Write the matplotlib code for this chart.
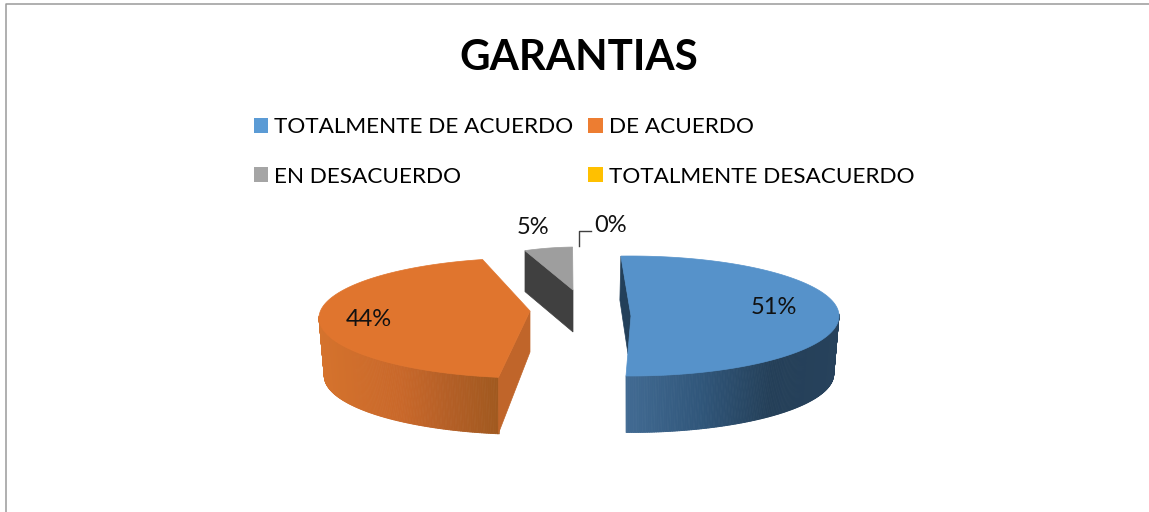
import numpy as np
import matplotlib
matplotlib.use('Agg')
import matplotlib.pyplot as plt
from matplotlib.collections import PolyCollection
from matplotlib.colors import LinearSegmentedColormap
from matplotlib.patches import Patch, Polygon

plt.rcParams['font.family'] = ['Lato', 'DejaVu Sans']

title = 'GARANTIAS'
categories = ['TOTALMENTE DE ACUERDO', 'DE ACUERDO', 'EN DESACUERDO', 'TOTALMENTE DESACUERDO']
values = [51, 44, 5, 0]
legend_colors = ['#5b9bd5', '#ed7d31', '#a5a5a5', '#ffc000']

# how each slice sits in the picture, all in pixels
top_colors = ['#5692ca', '#e0752e', '#9e9e9e', '#ffc000']
cut_colors = ['#23405a', '#c0652a', '#404040', '#ffc000']
centers = [(630, 316), (530, 318), (578, 307), (578, 307)]
apexes = [(631, 316), (530, 311), (573, 290), (578, 290)]
radii = [(209, 60), (211, 60), (155, 60), (155, 60)]
turns = [-2.5, 5, -2, 0]
label_pos = [(774, 308), (369, 319), (533, 228), (611, 226)]
DEPTH = 58

def arc_points(center, radius, a0, a1, shrink=1.):
	a = np.radians(np.linspace(a0, a1, max(int(abs(a1 - a0)) * 2, 2)))
	x = center[0] + radius[0] * shrink * np.sin(a)
	y = center[1] - radius[1] * shrink * np.cos(a)
	return np.column_stack([x, y])

def wall_gradient(ax, center, radius, a0, a1, cmap, xmin, xmax):
	top = arc_points(center, radius, a0, a1)
	low = arc_points((center[0], center[1] + DEPTH), radius, a0, a1, shrink=0.975)
	quads = [np.array([top[i], top[i + 1], low[i + 1], low[i]]) for i in range(len(top) - 1)]
	colors = [cmap((q[:, 0].mean() - xmin) / (xmax - xmin)) for q in quads]
	ax.add_collection(PolyCollection(quads, facecolors=colors, edgecolors=colors, linewidths=0.6))

blue_wall = LinearSegmentedColormap.from_list('blue_wall', [(0, '#416a92'), (0.35, '#30567a'), (0.68, '#243f58'), (1, '#27425c')])
orange_wall = LinearSegmentedColormap.from_list('orange_wall', [(0, '#d5732d'), (0.45, '#c9682a'), (0.72, '#b45f26'), (1, '#a0591f')])

fig = plt.figure(figsize=(11.49, 5.12), dpi=100)
ax = fig.add_axes([0, 0, 1, 1])
ax.set_xlim(0, 1149)
ax.set_ylim(512, 0)
ax.axis('off')

ax.plot([6, 6, 1149], [512, 4, 4], color='#9a9a9a', lw=1.1)

# slice angles come from the values
starts = np.cumsum([0] + values[:-1]) * 3.6 + np.array(turns)
sweeps = np.array(values) * 3.6

# blue
a0, a1 = starts[0], starts[0] + sweeps[0]
wall_gradient(ax, centers[0], radii[0], 88, a1, blue_wall, 628, 838)
first = arc_points(centers[0], radii[0], a0, a0 + 1)[0]
ax.add_patch(Polygon([first, first + (-1, 44), (628, 354), apexes[0]], color=cut_colors[0], lw=0.5))

# orange
a0, a1 = starts[1], starts[1] + sweeps[1]
wall_gradient(ax, centers[1], radii[1], a0, 272, orange_wall, 320, 499)
first = arc_points(centers[1], radii[1], a0, a0 + 1)[0]
ax.add_patch(Polygon([first, apexes[1], (apexes[1][0], apexes[1][1] + 41), first + (0, 56)],
					 color=cut_colors[1], lw=0.5))

# grey
a0, a1 = starts[2], starts[2] + sweeps[2]
last = arc_points(centers[2], radii[2], a0, a1)
ax.add_patch(Polygon([last[0], last[0] + (0, 41), (apexes[2][0], apexes[2][1] + 42), apexes[2]],
					 color=cut_colors[2], lw=0.5))

# top faces, the empty slice draws nothing
for i in range(len(values)):
	if values[i] == 0:
		continue
	arc = arc_points(centers[i], radii[i], starts[i], starts[i] + sweeps[i])
	ax.add_patch(Polygon(np.vstack([arc, [apexes[i]]]), color=top_colors[i], lw=0.5))

for v, pos in zip(values, label_pos):
	ax.text(pos[0], pos[1], f'{v}%', fontsize=17, color='#111111', ha='center', va='center')

ax.plot([578.5, 578.5, 591], [246, 231, 231], color='#404040', lw=1)

ax.text(578.5, 58, title, fontsize=30.3, fontweight='bold', color='black', ha='center', va='center')

# legend fills by column, so swap the order to read by rows
order = [0, 2, 1, 3]
handles = [Patch(facecolor=legend_colors[i], label=categories[i]) for i in order]
fig.legend(handles=handles, ncols=2, frameon=False, fontsize=16.2, handlelength=0.65, handleheight=0.65,
		   handletextpad=0.27, columnspacing=0.66, labelspacing=1.31,
		   loc='upper left', bbox_to_anchor=(247 / 1149, 1 - 110.5 / 512), borderaxespad=0, borderpad=0.3)

fig.savefig('out.png', dpi=100)
